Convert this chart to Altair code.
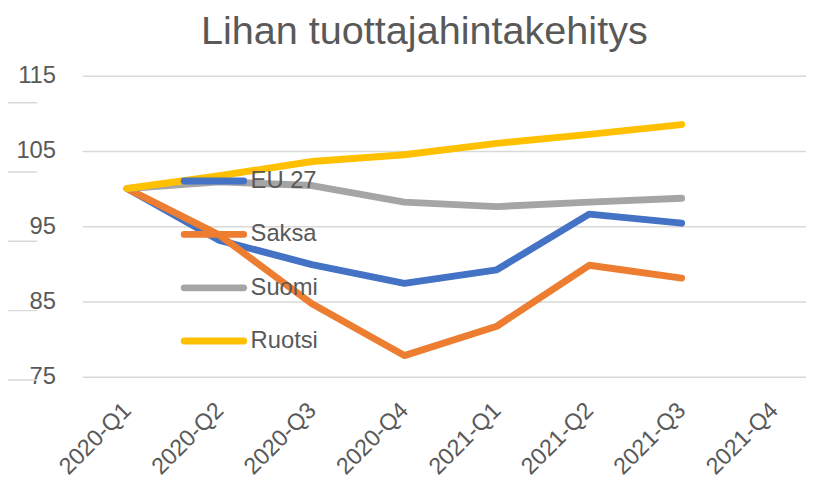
import altair as alt
import pandas as pd

quarters = ["2020-Q1", "2020-Q2", "2020-Q3", "2020-Q4", "2021-Q1", "2021-Q2", "2021-Q3", "2021-Q4"]
series = ["EU 27", "Saksa", "Suomi", "Ruotsi"]
eu27 = [100, 93.1, 89.9, 87.4, 89.2, 96.6, 95.4]
saksa = [100, 93.8, 84.7, 77.8, 81.7, 89.8, 88.1]
suomi = [100, 100.9, 100.4, 98.2, 97.6, 98.2, 98.7]
ruotsi = [100, 101.7, 103.6, 104.5, 106.0, 107.2, 108.5]
colors = ["#4472C4", "#ED7D31", "#A5A5A5", "#FFC000"]
y_ticks = [75, 85, 95, 105, 115]

values = {"EU 27": eu27, "Saksa": saksa, "Suomi": suomi, "Ruotsi": ruotsi}
rows = []
for s in series:
    for q, v in zip(quarters, values[s]):
        rows.append({"series": s, "quarter": q, "value": v})
df = pd.DataFrame(rows)

FONT = "Liberation Sans"
TXT = "#595959"

x_enc = alt.X("quarter:O", scale=alt.Scale(domain=quarters, range=[0, 744], padding=0.4853),
              axis=alt.Axis(title=None, labelAngle=-45, labelAlign="right", labelBaseline="middle",
                            labelPadding=30, labelFontSize=23.5, labelFont=FONT, labelColor=TXT,
                            ticks=False, tickSize=0, domain=False, grid=False, labelOverlap=False))
y_axis = alt.Axis(title=None, values=y_ticks, labelFontSize=24, labelFont=FONT, labelColor=TXT,
                  ticks=False, tickSize=0, domain=False, labelPadding=27,
                  grid=True, gridColor="#D9D9D9", gridWidth=1.5)
y_enc = alt.Y("value:Q", scale=alt.Scale(domain=[75, 115], nice=False, zero=False), axis=y_axis)

layers = []
# decorative stray grid fragments at the far left of the reference
for yy in [27.3, 97.3, 167.3, 237.3, 307.3]:
    layers.append(alt.Chart(alt.InlineData(values=[{"k": 0}])).mark_rule(
        color="#D9D9D9", strokeWidth=1.5).encode(x=alt.value(-83), x2=alt.value(-45.5), y=alt.value(yy)))

for s, c in zip(series, colors):
    layers.append(
        alt.Chart(df).transform_filter(alt.datum.series == s).mark_line(
            strokeWidth=7, strokeCap="round", strokeJoin="round", color=c
        ).encode(x=x_enc, y=y_enc)
    )

# legend inside the plot
leg_rows = [106.3, 160.3, 214.3, 268.0]
for s, c, yy in zip(series, colors, leg_rows):
    one = alt.InlineData(values=[{"series": s}])
    layers.append(alt.Chart(one).mark_rule(strokeWidth=7, strokeCap="round", color=c).encode(
        x=alt.value(103), x2=alt.value(163), y=alt.value(yy)))
    layers.append(alt.Chart(one).mark_text(align="left", baseline="middle", fontSize=24,
                                           font=FONT, color=TXT).encode(
        x=alt.value(170), y=alt.value(yy), text="series:N"))

chart = alt.layer(*layers).properties(
    width=731, height=304,
    autosize=alt.AutoSizeParams(type="none"),
    padding={"left": 75, "top": 66, "right": 0, "bottom": 100},
    title=alt.TitleParams("Lihan tuottajahintakehitys", fontSize=40, font=FONT, color=TXT,
                          fontWeight="normal", anchor="middle", dx=-20, offset=12),
).configure(background="white").configure_view(strokeWidth=0)

chart.save("out.html", embed_options={"renderer": "svg", "actions": False})
